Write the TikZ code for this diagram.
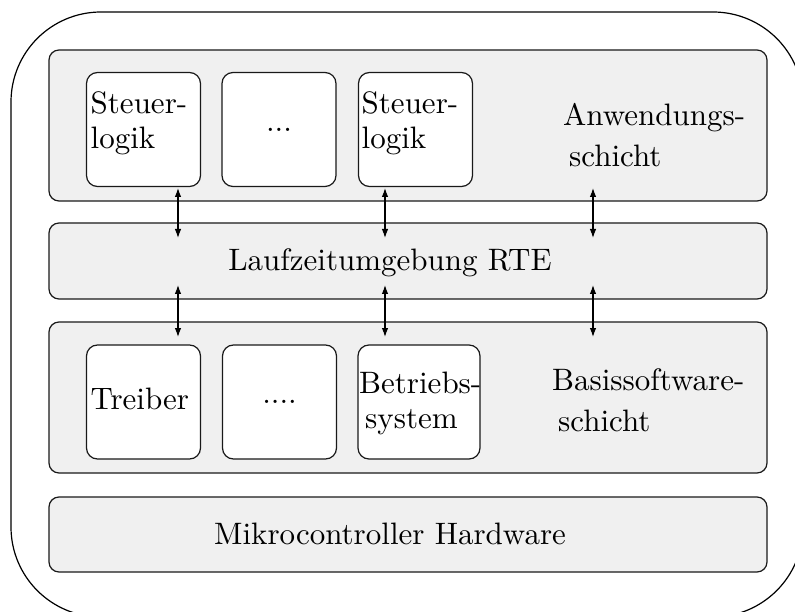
\documentclass[tikz,border=0pt]{standalone}
\usepackage{fontspec}
\setmainfont{lmroman10-regular}[Extension=.otf]
\usetikzlibrary{arrows.meta}
\definecolor{layergray}{HTML}{F0F0F0}
\begin{document}
\begin{tikzpicture}[x=1pt,y=-1pt,
  every node/.style={font=\fontsize{31}{35}\selectfont},
  layer/.style={draw=black!90, fill=layergray, line width=1.2pt, rounded corners=10pt,
    minimum width=718pt, inner sep=0pt},
  module/.style={draw=black!90, fill=white, line width=1.2pt, rounded corners=11pt,
    minimum width=114pt, minimum height=114pt, inner sep=0pt},
  txt/.style={inner sep=0pt, anchor=base west, align=left},
  ctxt/.style={inner sep=0pt, anchor=base},
  link/.style={{Latex[length=9pt,width=6.5pt]}-{Latex[length=9pt,width=6.5pt]}, line width=1.1pt}
]
\useasboundingbox (0,0) rectangle (795,612);

% outer frame (partly outside the page)
\begin{scope}
  \clip (0,0) rectangle (795,612);
  \draw[line width=1.2pt, rounded corners=90pt] (11,12) rectangle (803,617);
\end{scope}

% layers
\node[layer, minimum height=151pt] (app) at (408,125.5) {};
\node[layer, minimum height=76pt]  (rte) at (408,261) {};
\node[layer, minimum height=151pt] (bsw) at (408,397.5) {};
\node[layer, minimum height=75pt]  (hw)  at (408,534.5) {};

% application layer modules (anchor base = last line)
\node[module] (m1) at (143.5,129.5) {};
\node[module] (m2) at (279,129.5) {...};
\node[module] (m3) at (415.5,129.5) {};
\node[txt] (m1t) at (90.5,149) {Steuer-\\logik};
\node[txt] (m3t) at (361.5,149) {Steuer-\\logik};
\node[txt] (appt) at (563,167) {Anwendungs-\\[6pt]\hspace*{6pt}schicht};

% runtime environment
\node[ctxt] (rtet) at (390,271) {Laufzeitumgebung RTE};

% basic software modules
\node[module] (b1) at (143.5,402) {};
\node[module] (b2) at (279.5,402) {....};
\node[module, minimum width=122pt] (b3) at (419,402) {};
\node[txt] (b1t) at (90.5,409) {Treiber};
\node[txt] (b3t) at (359,428) {Betriebs-\\\hspace*{6pt}system};
\node[txt] (bswt) at (552,431) {Basissoftware-\\[6pt]\hspace*{6pt}schicht};

% hardware
\node[ctxt] (hwt) at (390,544) {Mikrocontroller Hardware};

% interface arrows
\coordinate (a1u) at (178,188);  \coordinate (a1d) at (178,238);
\coordinate (a2u) at (385,188);  \coordinate (a2d) at (385,238);
\coordinate (a3u) at (593,188);  \coordinate (a3d) at (593,238);
\coordinate (c1u) at (178,285);  \coordinate (c1d) at (178,337);
\coordinate (c2u) at (385,285);  \coordinate (c2d) at (385,337);
\coordinate (c3u) at (593,285);  \coordinate (c3d) at (593,337);
\draw[link] (a1u) -- (a1d);
\draw[link] (a2u) -- (a2d);
\draw[link] (a3u) -- (a3d);
\draw[link] (c1u) -- (c1d);
\draw[link] (c2u) -- (c2d);
\draw[link] (c3u) -- (c3d);
\end{tikzpicture}
\end{document}
